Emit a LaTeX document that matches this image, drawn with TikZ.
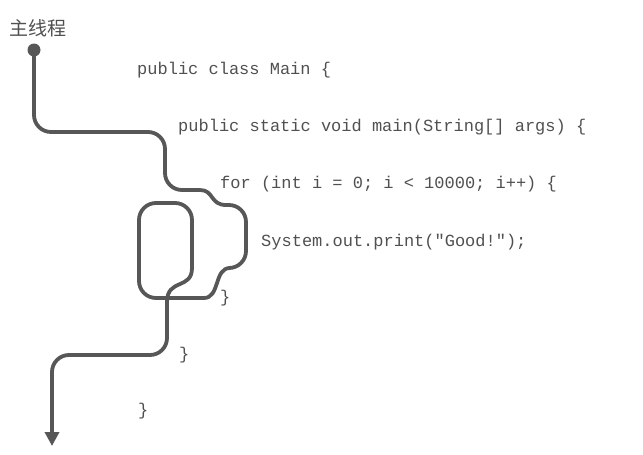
\documentclass[tikz,border=0pt]{standalone}
\usepackage{fontspec}
\setmonofont{Liberation Mono}
\newfontfamily\cjk{Noto Sans CJK SC}
\usetikzlibrary{arrows.meta}
\definecolor{threadgray}{HTML}{575757}
\definecolor{codegray}{HTML}{505050}
\begin{document}
\begin{tikzpicture}[x=1pt,y=-1pt,
  code/.style={anchor=base west,inner sep=0pt,text=codegray,font=\ttfamily\fontsize{17}{17}\selectfont},
  thread/.style={draw=threadgray,line width=3.8pt,line join=round},
  dotmark/.style={circle,fill=threadgray,inner sep=0pt,minimum size=13pt}]
\path[use as bounding box] (0,0) rectangle (643,455);
\node[anchor=west,inner sep=0pt,text=codegray,font=\cjk\fontsize{19}{19}\selectfont] (title) at (9,28) {主线程};
\node[code] (l1) at (137,74) {public class Main \{};
\node[code] (l2) at (178,131) {public static void main(String[] args) \{};
\node[code] (l3) at (220,188) {for (int i = 0; i < 10000; i++) \{};
\node[code] (l4) at (261,246) {System.out.print("Good!");};
\node[code] (l5) at (220,302) {\}};
\node[code] (l6) at (179,359) {\}};
\node[code] (l7) at (138,415) {\}};
\coordinate (start) at (34,50);
\coordinate (finish) at (52,446);
% thread path
\draw[thread,rounded corners=17pt] (start) -- (34,132) -- (165,132) -- (165,190) -- (200,190);
\draw[thread] (200,190) .. controls (214,190) and (210,205) .. (226,205);
\draw[thread,rounded corners=17pt] (226,205) -- (246,205) -- (246,268) -- (230,268);
\draw[thread] (230,268) .. controls (214,268) and (220,298) .. (204,298);
\draw[thread,rounded corners=17pt] (204,298) -- (139,298) -- (139,203) -- (192,203) -- (192,268);
\draw[thread] (192,268) .. controls (192,290) and (167,278) .. (167,302);
\draw[thread,rounded corners=17pt,-{Triangle[width=14pt,length=14pt]}] (167,302) -- (167,355) -- (52,355) -- (finish);
\node[dotmark] (dot) at (start) {};
\end{tikzpicture}
\end{document}
